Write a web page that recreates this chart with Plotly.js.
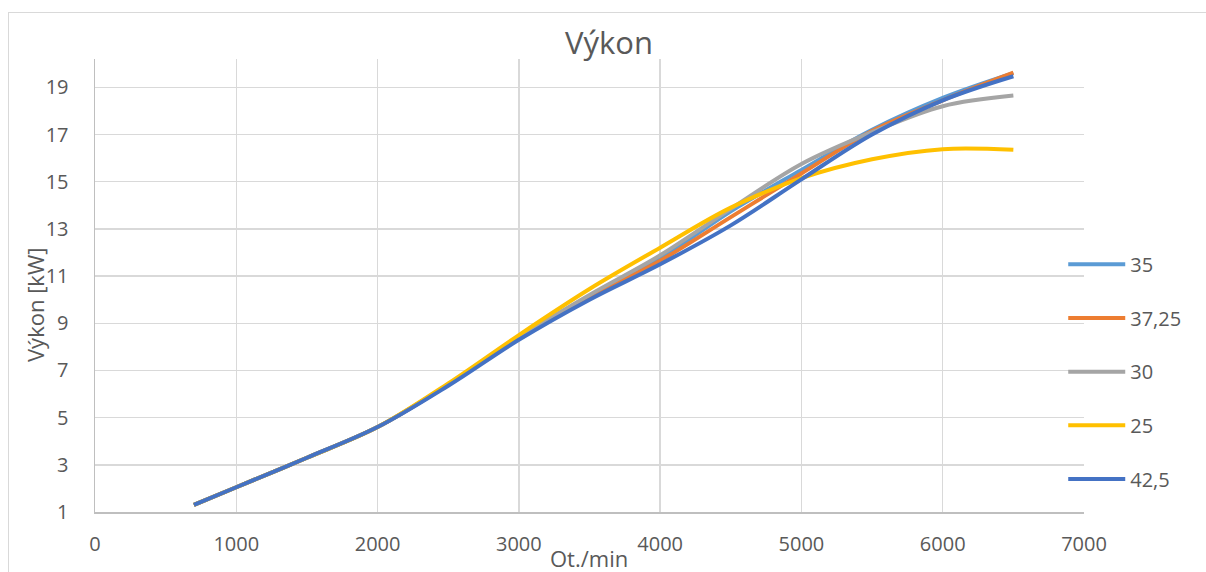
<!DOCTYPE html>
<html>
<head>
<meta charset="utf-8">
<script src="https://cdn.plot.ly/plotly-3.0.1.min.js"></script>
<style>
html,body{margin:0;padding:0;background:#fff;}
#wrap{position:relative;width:1206px;height:572px;overflow:hidden;}
#chart{width:1206px;height:572px;}
#frame{position:absolute;left:8px;top:12px;width:1300px;height:700px;border-top:1px solid #d9d9d9;border-left:1px solid #d9d9d9;pointer-events:none;}
</style>
</head>
<body>
<div id="wrap"><div id="chart"></div><div id="frame"></div></div>
<script>
const rpm = [700, 1000, 1500, 2000, 2500, 3000, 3500, 4000, 4500, 5000, 5500, 6000, 6500];
const seriesNames = ['35', '37,25', '30', '25', '42,5'];
const s35   = [1.3, 2.05, 3.3, 4.6, 6.4, 8.4, 10.15, 11.75, 13.75, 15.5, 17.2, 18.55, 19.6];
const s3725 = [1.3, 2.05, 3.3, 4.6, 6.4, 8.35, 10.1, 11.65, 13.5, 15.35, 17.15, 18.45, 19.62];
const s30   = [1.3, 2.05, 3.3, 4.6, 6.4, 8.4, 10.2, 11.88, 13.85, 15.75, 17.1, 18.2, 18.65];
const s25   = [1.3, 2.05, 3.3, 4.6, 6.45, 8.5, 10.45, 12.2, 13.9, 15.15, 15.95, 16.38, 16.35];
const s425  = [1.3, 2.05, 3.3, 4.6, 6.35, 8.3, 10.0, 11.5, 13.15, 15.1, 17.0, 18.45, 19.47];
const yTicks = [1, 3, 5, 7, 9, 11, 13, 15, 17, 19];
const xTicks = [0, 1000, 2000, 3000, 4000, 5000, 6000, 7000];

const colors = ['#5B9BD5', '#ED7D31', '#A5A5A5', '#FFC000', '#4472C4'];
const values = [s35, s3725, s30, s25, s425];
const FONT = '"Open Sans", "Noto Sans", sans-serif';

const traces = values.map((v, i) => ({
  type: 'scatter', mode: 'lines', x: rpm, y: v, name: seriesNames[i],
  legendgroup: 'g' + i,
  line: {color: colors[i], width: 4, shape: 'spline', smoothing: 1}
}));

const layout = {
  width: 1206, height: 572,
  margin: {l: 95, r: 122, t: 59, b: 60, pad: 0},
  paper_bgcolor: '#fff', plot_bgcolor: '#fff',
  font: {family: FONT, color: '#595959', size: 20},
  title: {text: 'Výkon', font: {family: FONT, size: 31, color: '#595959'}, x: 0.505, xanchor: 'center', y: 0.925, yanchor: 'middle'},
  xaxis: {
    range: [0, 7000], tickvals: xTicks, ticktext: xTicks.map(String),
    showgrid: true, gridcolor: '#d9d9d9', gridwidth: 1.5,
    showline: true, linecolor: '#bfbfbf', linewidth: 1.5,
    zeroline: false, ticks: '', ticklabelstandoff: 13,
    tickfont: {family: FONT, size: 20, color: '#595959'}
  },
  yaxis: {
    range: [1, 20.2], tickvals: yTicks, ticktext: yTicks.map(String),
    showgrid: true, gridcolor: '#d9d9d9', gridwidth: 1.5,
    showline: true, linecolor: '#bfbfbf', linewidth: 1.5,
    zeroline: false, ticks: '', ticklabelstandoff: 21,
    tickfont: {family: FONT, size: 20, color: '#595959'}
  },
  showlegend: true,
  legend: {
    x: 0.979, xanchor: 'left', y: 0.59, yanchor: 'top',
    bgcolor: 'rgba(0,0,0,0)', borderwidth: 0,
    font: {family: FONT, size: 20, color: '#595959'},
    tracegroupgap: 24.7, itemwidth: 57
  },
  annotations: [
    {text: 'Ot./min', xref: 'paper', yref: 'paper', x: (589 - 95) / 989, y: -(558 - 512) / 453,
     xanchor: 'center', yanchor: 'middle', showarrow: false, font: {family: FONT, size: 22, color: '#595959'}},
    {text: 'Výkon [kW]', xref: 'paper', yref: 'paper', x: -(95 - 35) / 989, y: (512 - 305) / 453,
     xanchor: 'center', yanchor: 'middle', textangle: -90, showarrow: false, font: {family: FONT, size: 22, color: '#595959'}}
  ]
};

Plotly.newPlot('chart', traces, layout, {staticPlot: true, displayModeBar: false});
</script>
</body>
</html>
